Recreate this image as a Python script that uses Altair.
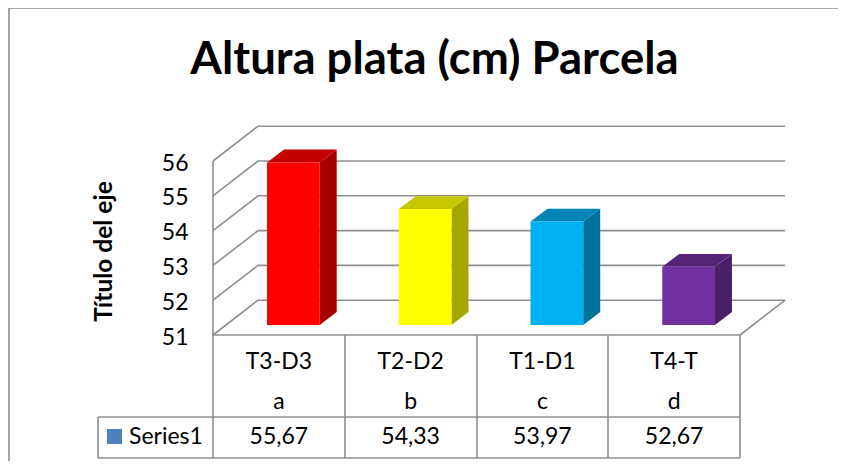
import altair as alt
import pandas as pd

categories = ["T3-D3", "T2-D2", "T1-D1", "T4-T"]
letters = ["a", "b", "c", "d"]
values = [55.67, 54.33, 53.97, 52.67]
labels = ["55,67", "54,33", "53,97", "52,67"]
front_colors = ["#FF0000", "#FFFF00", "#00B0F0", "#7030A0"]
side_colors = ["#A60000", "#A6A600", "#00739C", "#491F68"]
top_colors = ["#C40000", "#C8C800", "#0085B5", "#552478"]
grid_values = [51, 52, 53, 54, 55, 56]

FONT = "Lato"
GRAY = "#8E8E8E"
WALL_DX, WALL_DV = 0.342, 1.0      # oblique shift of the back wall
BAR_DV0 = 0.29                     # bar front face depth, value units
BAR_DX, BAR_DV = 0.129, 0.37       # bar depth
BAR_L, BAR_W = 0.41, 0.40          # bar left offset and width, category units

xs = alt.Scale(domain=[0, 4], nice=False, zero=False)
ys = alt.Scale(domain=[51, 56], nice=False, zero=False)
y_axis = alt.Axis(values=grid_values, ticks=False, domain=False, grid=False,
                  labelFont=FONT, labelFontSize=23, labelColor="#000000",
                  labelPadding=25, labelOffset=2, titleFont=FONT, titleFontSize=24.5,
                  titleFontWeight="bold", titleColor="#000000", titlePadding=45, titleY=90)
X = alt.X("x:Q", scale=xs, axis=None)
Y = alt.Y("y:Q", scale=ys, axis=y_axis, title="Título del eje")
Y2 = alt.Y2("y2:Q")

# gridlines: side wall + back wall
grid_rows = []
for g in grid_values:
    grid_rows += [
        dict(g=g, o=0, x=0, y=g),
        dict(g=g, o=1, x=WALL_DX, y=g + WALL_DV),
        dict(g=g, o=2, x=4 + WALL_DX, y=g + WALL_DV),
    ]
grid = alt.Chart(pd.DataFrame(grid_rows)).mark_line(color=GRAY, strokeWidth=1.6).encode(
    x=X, y=Y, detail="g:N", order="o:Q"
)

# floor edges
floor_df = pd.DataFrame([
    dict(k="l", x=0, y=51), dict(k="l", x=0, y=56),
    dict(k="r", x=4, y=51), dict(k="r", x=4 + WALL_DX, y=51 + WALL_DV),
])
floor = alt.Chart(floor_df).mark_line(color=GRAY, strokeWidth=1.6).encode(
    x=X, y=Y, detail="k:N"
)

# faces of bars
front_rows, side_rows, top_rows = [], [], []
for i, v in enumerate(values):
    L = i + BAR_L
    R = L + BAR_W
    b0 = 51 + BAR_DV0
    t0 = v + BAR_DV0
    front_rows.append(dict(c=categories[i], x=L, x2=R, y=b0, y2=t0, color=front_colors[i]))
    side_rows += [
        dict(c=categories[i], x=R, y=t0, y2=b0, color=side_colors[i]),
        dict(c=categories[i], x=R + BAR_DX, y=t0 + BAR_DV, y2=b0 + BAR_DV, color=side_colors[i]),
    ]
    top_rows += [
        dict(c=categories[i], x=L, y=t0, y2=t0, color=top_colors[i]),
        dict(c=categories[i], x=L + BAR_DX, y=t0 + BAR_DV, y2=t0, color=top_colors[i]),
        dict(c=categories[i], x=R, y=t0 + BAR_DV, y2=t0, color=top_colors[i]),
        dict(c=categories[i], x=R + BAR_DX, y=t0 + BAR_DV, y2=t0 + BAR_DV, color=top_colors[i]),
    ]

side = alt.Chart(pd.DataFrame(side_rows)).mark_area(interpolate="linear").encode(
    x=X, y=Y, y2=Y2, detail="c:N", color=alt.Color("color:N", scale=None)
)
top = alt.Chart(pd.DataFrame(top_rows)).mark_area(interpolate="linear").encode(
    x=X, y=Y, y2=Y2, detail="c:N", color=alt.Color("color:N", scale=None)
)
front = alt.Chart(pd.DataFrame(front_rows)).mark_rect().encode(
    x=X, x2="x2:Q", y=Y, y2=Y2, color=alt.Color("color:N", scale=None)
)

# data table (chrome in plot-relative pixels)
COLS = [0, 132, 264, 395, 527]
H_TOP, H_MID, H_BOT = 174, 256, 297
rules = []
def rule(x1, x2, y1, y2, color=GRAY, w=1.6):
    return alt.Chart(pd.DataFrame({"a": [0]})).mark_rule(color=color, strokeWidth=w).encode(
        x=alt.value(x1), x2=alt.value(x2), y=alt.value(y1), y2=alt.value(y2)
    )
for c in COLS:
    rules.append(rule(c, c, H_TOP, H_BOT))
rules.append(rule(0, 527, H_TOP, H_TOP))
rules.append(rule(-115, 527, H_MID, H_MID))
rules.append(rule(-115, 527, H_BOT, H_BOT))
rules.append(rule(-115, -115, H_MID, H_BOT))
# outer frame
rules.append(rule(-204, 640, -153, -153))
rules.append(rule(-204, -204, -153, 310))

table_df = pd.DataFrame({
    "x": [i + 0.5 for i in range(4)], "cat": categories, "letter": letters, "label": labels,
})
def col_text(field, py):
    return alt.Chart(table_df).mark_text(font=FONT, fontSize=23, color="#000000", baseline="middle").encode(
        x=X, y=alt.value(py), text=f"{field}:N"
    )
t_cat = col_text("cat", 201)
t_let = col_text("letter", 241)
t_lab = col_text("label", 276)

legend_txt = alt.Chart(pd.DataFrame({"t": ["Series1"]})).mark_text(
    font=FONT, fontSize=23, color="#000000", align="left", baseline="middle"
).encode(x=alt.value(-84), y=alt.value(276), text="t:N")
legend_sw = alt.Chart(pd.DataFrame({"t": ["Series1"]})).mark_rect(color="#4F81BD").encode(
    x=alt.value(-106), x2=alt.value(-91), y=alt.value(268), y2=alt.value(283)
)

chart = alt.layer(
    grid, floor, side, top, front, *rules,
    t_cat, t_let, t_lab, legend_sw, legend_txt
).properties(
    width=527, height=174,
    padding={"left": 205, "top": 153, "right": 98, "bottom": 126},
    autosize=alt.AutoSizeParams(type="none"),
    background="white",
    title=alt.TitleParams("Altura plata (cm) Parcela", font=FONT, fontSize=45.5, fontWeight="bold",
                          color="#000000", anchor="middle", dx=-42, offset=-76),
).configure_view(stroke=None)

chart.save("out.html", embed_options={"renderer": "svg", "actions": False})
